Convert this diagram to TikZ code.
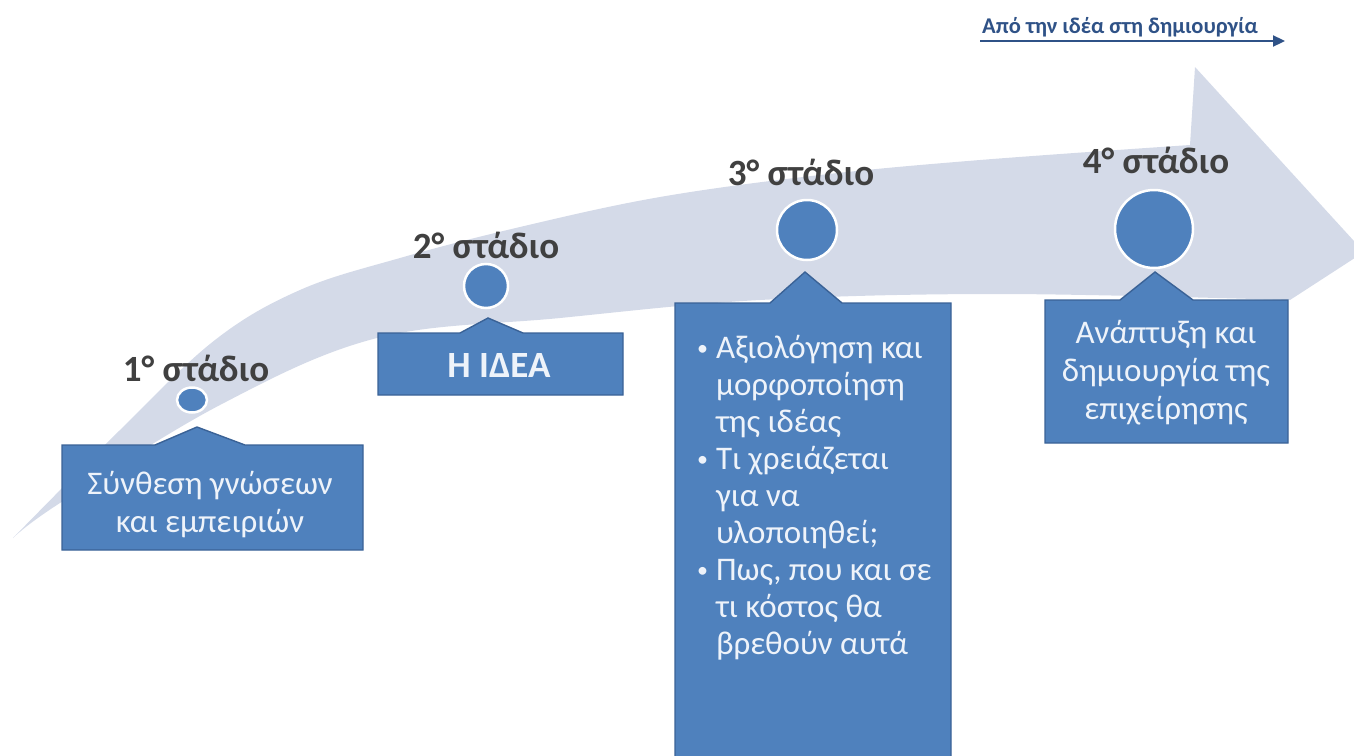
\documentclass[tikz,border=0pt]{standalone}
\usepackage{fontspec}
\setmainfont{Carlito}
\usetikzlibrary{arrows.meta,shapes.geometric}
\definecolor{bandfill}{RGB}{212,218,232}
\definecolor{boxfill}{RGB}{79,129,189}
\definecolor{boxline}{RGB}{58,98,150}
\definecolor{boxtext}{RGB}{238,243,250}
\definecolor{labeltext}{RGB}{64,64,64}
\definecolor{toparrow}{RGB}{47,82,135}
\tikzset{
  stagebox/.style={fill=boxfill, draw=boxline, line width=1.4pt, line join=miter},
  stagedot/.style={circle, fill=boxfill, draw=white, line width=2.5pt, inner sep=0pt},
  stagelabel/.style={text=labeltext, font=\fontsize{37}{40}\selectfont\bfseries, inner sep=0pt, anchor=base},
  boxtxt/.style={text=boxtext, font=\fontsize{33}{37}\selectfont, inner sep=0pt, anchor=base},
}
\begin{document}
\begin{tikzpicture}[x=1pt,y=-1pt]
\useasboundingbox (0,0) rectangle (1354,755);
\clip (0,0) rectangle (1354,755);
% big curved arrow
\fill[bandfill] plot[smooth, tension=0.6] coordinates {(13,538) (120,430) (215,340) (300,290) (400,258) (520,227) (660,197) (820,175) (980,160) (1190,145)}
  -- (1195,67) -- (1364,252) -- (1290,300)
  -- plot[smooth, tension=0.6] coordinates {(1290,300) (1000,294) (760,300) (560,318) (377,338) (220,405) (60,503) (13,538)} -- cycle;

% top-right arrow
\coordinate (ta) at (980,41);
\coordinate (tb) at (1285,41);
\draw[toparrow, line width=2.2pt, -{Triangle[length=12pt,width=11pt]}] (ta) -- (tb);
\node[text=toparrow, font=\fontsize{22.5}{26}\selectfont\bfseries, inner sep=0pt, anchor=base west] (toptxt) at (982,33) {Από την ιδέα στη δημιουργία};

% boxes with roof tabs
\draw[stagebox] (62,445) -- (155,445) -- (197,427) -- (245,445) -- (363,445) -- (363,550) -- (62,550) -- cycle;
\draw[stagebox] (378,333) -- (460,333) -- (488,318) -- (523,333) -- (623,333) -- (623,395) -- (378,395) -- cycle;
\draw[stagebox] (675,303) -- (770,303) -- (805,272) -- (842,303) -- (951,303) -- (951,780) -- (675,780) -- cycle;
\draw[stagebox] (1045,300) -- (1120,300) -- (1155,272) -- (1193,300) -- (1288,300) -- (1288,443) -- (1045,443) -- cycle;

% dots
\node[stagedot, ellipse, minimum width=30pt, minimum height=25pt] (d1) at (192,400) {};
\node[stagedot, minimum size=44pt] (d2) at (486,286) {};
\node[stagedot, minimum size=60pt] (d3) at (807,230) {};
\node[stagedot, minimum size=78pt] (d4) at (1154,229) {};

% stage labels
\node[stagelabel] (l1) at (196,381) {1° στάδιο};
\node[stagelabel] (l2) at (486,258) {2° στάδιο};
\node[stagelabel] (l3) at (801,185) {3° στάδιο};
\node[stagelabel] (l4) at (1156,173) {4° στάδιο};

% box texts
\node[boxtxt] (t1) at (210,494) {\begin{tabular}[t]{@{}c@{}}Σύνθεση γνώσεων\\[1pt]και εμπειριών\end{tabular}};
\node[boxtxt, font=\fontsize{37}{40}\selectfont\bfseries] (t2) at (499,377) {Η ΙΔΕΑ};
\node[boxtxt, anchor=base west] (t3) at (697,358) {\begin{tabular}[t]{@{}l@{\hspace{8pt}}l@{}}
{\fontsize{22}{37}\selectfont\raisebox{3pt}{•}} & Αξιολόγηση και\\ & μορφοποίηση\\ & της ιδέας\\
{\fontsize{22}{37}\selectfont\raisebox{3pt}{•}} & Τι χρειάζεται\\ & για να\\ & υλοποιηθεί;\\
{\fontsize{22}{37}\selectfont\raisebox{3pt}{•}} & Πως, που και σε\\ & τι κόστος θα\\ & βρεθούν αυτά\end{tabular}};
\node[boxtxt] (t4) at (1166,343) {\begin{tabular}[t]{@{}c@{}}Ανάπτυξη και\\[1pt]δημιουργία της\\[1pt]επιχείρησης\end{tabular}};
\end{tikzpicture}
\end{document}
